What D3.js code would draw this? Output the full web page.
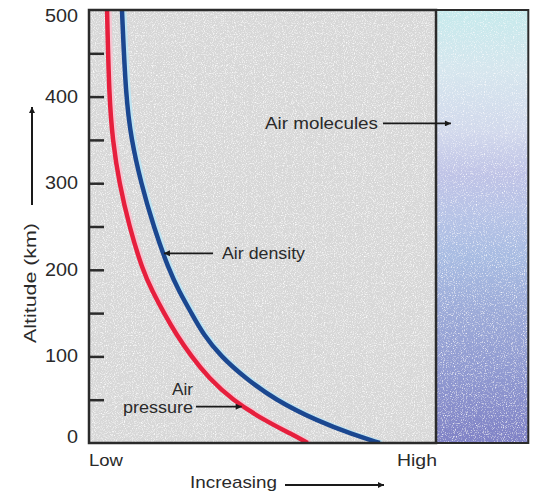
<!DOCTYPE html>
<html>
<head>
<meta charset="utf-8">
<script src="https://cdn.jsdelivr.net/npm/d3@7"></script>
<style>
  body { margin: 0; background: #fff; }
  text { font-family: "Liberation Sans", Arial, sans-serif; fill: #2a2a2a; }
</style>
</head>
<body>
<div class="chart"></div>
<script>
// altitude in km, values on a relative "Low -> High" scale (0..100)
const altitudes = [500, 400, 350, 300, 250, 200, 175, 150, 125, 100, 75, 50, 25, 10, 0]
const airPressure = [5.2, 5.8, 6.8, 8.7, 11.6, 15.4, 18.3, 21.6, 25.2, 29.5, 34.5, 41.2, 51, 58.5, 63]
const airDensity = [9.5, 10.6, 12.2, 15, 18.6, 23, 26, 29.5, 33, 38, 45, 53.6, 66, 76, 83.8]
const altLabels = [0, 100, 200, 300, 400, 500]
const altTicks = [50, 100, 150, 200, 250, 300, 350, 400, 450]

const W = 548, H = 498

const svg = d3.select("div.chart").append("svg")
    .attr("width", W)
    .attr("height", H)

// gray area is 0..100 (Low..High), the molecules panel sits past 100
const x = d3.scaleLinear().domain([0, 100]).range([89, 436])
const y = d3.scaleLinear().domain([0, 500]).range([443, 10])
const panelEnd = 126.6

const defs = svg.append("defs")

const grad = defs.append("linearGradient")
    .attr("id", "molecules")
    .attr("x1", 0).attr("y1", 0).attr("x2", 0).attr("y2", 1)
const stops = [
    [0, "#c6eaec"], [0.14, "#d6e6ee"], [0.28, "#d2d9ec"], [0.38, "#bfc3e6"],
    [0.47, "#b7c3e6"], [0.57, "#a8bce2"], [0.7, "#9caad8"], [0.85, "#8f98d0"], [1, "#8082c6"]
]
grad.selectAll("stop").data(stops).enter().append("stop")
    .attr("offset", d => d[0])
    .attr("stop-color", d => d[1])

// speckle texture, strength is the white overlay alpha bias
function speckle(id, bias) {
    const f = defs.append("filter").attr("id", id)
        .attr("x", 0).attr("y", 0).attr("width", "100%").attr("height", "100%")
    f.append("feTurbulence")
        .attr("type", "fractalNoise").attr("baseFrequency", 0.9).attr("numOctaves", 2).attr("result", "n")
    f.append("feColorMatrix")
        .attr("in", "n").attr("type", "matrix")
        .attr("values", `0 0 0 0 1  0 0 0 0 1  0 0 0 0 1  0 0 0 -2.4 ${bias}`)
        .attr("result", "w")
    f.append("feComposite").attr("in", "w").attr("in2", "SourceGraphic").attr("operator", "in").attr("result", "ws")
    f.append("feMerge").call(m => {
        m.append("feMergeNode").attr("in", "SourceGraphic")
        m.append("feMergeNode").attr("in", "ws")
    })
}
speckle("speckle", 1.25)
speckle("speckleSoft", 1.12)

defs.append("clipPath").attr("id", "plotClip")
    .append("rect")
    .attr("x", x(0)).attr("y", y(500))
    .attr("width", x(100) - x(0)).attr("height", y(0) - y(500))

defs.append("marker")
    .attr("id", "arrowhead")
    .attr("viewBox", "0 -5 10 10")
    .attr("refX", 10)
    .attr("refY", 0)
    .attr("markerWidth", 7)
    .attr("markerHeight", 6)
    .attr("markerUnits", "userSpaceOnUse")
    .attr("orient", "auto")
    .append("path")
    .attr("d", "M0,-5L10,0L0,5Z")
    .attr("fill", "#1a1a1a")

// backgrounds
svg.append("rect")
    .attr("x", x(0)).attr("y", y(500))
    .attr("width", x(100) - x(0)).attr("height", y(0) - y(500))
    .attr("fill", "#d7d7d7")
    .attr("filter", "url(#speckle)")

svg.append("rect")
    .attr("x", x(100)).attr("y", y(500))
    .attr("width", x(panelEnd) - x(100)).attr("height", y(0) - y(500))
    .attr("fill", "url(#molecules)")
    .attr("filter", "url(#speckleSoft)")

// curves
const line = d3.line()
    .x(d => x(d[1]))
    .y(d => y(d[0]))
    .curve(d3.curveBasis)

const curves = svg.append("g").attr("clip-path", "url(#plotClip)")
const series = [
    {values: airPressure, color: "#e61f3d", halo: "#f6c6d2"},
    {values: airDensity, color: "#1b4790", halo: "#bfe4f2"}
]
series.forEach(s => {
    const pts = altitudes.map((a, i) => [a, s.values[i]])
    curves.append("path")
        .attr("d", line(pts))
        .attr("transform", "translate(2,0)")
        .attr("fill", "none")
        .attr("stroke", s.halo)
        .attr("stroke-width", 5)
    curves.append("path")
        .attr("d", line(pts))
        .attr("fill", "none")
        .attr("stroke", s.color)
        .attr("stroke-width", 4.5)
})

// frames
svg.append("rect")
    .attr("x", x(0)).attr("y", y(500))
    .attr("width", x(100) - x(0)).attr("height", y(0) - y(500))
    .attr("fill", "none")
    .attr("stroke", "#2b2b2b")
    .attr("stroke-width", 2.5)

svg.append("rect")
    .attr("x", x(100)).attr("y", y(500))
    .attr("width", x(panelEnd) - x(100)).attr("height", y(0) - y(500))
    .attr("fill", "none")
    .attr("stroke", "#2b2b2b")
    .attr("stroke-width", 2)

// altitude ticks point inward
const axis = svg.append("g")
    .attr("transform", `translate(${x(0)},0)`)
    .call(d3.axisLeft(y).tickValues(altTicks).tickSize(-15).tickFormat(""))
axis.select(".domain").remove()
axis.selectAll(".tick line").attr("stroke", "#2b2b2b").attr("stroke-width", 2.5)

svg.selectAll(".altLabel")
    .data(altLabels)
    .enter().append("text")
    .attr("class", "altLabel")
    .attr("x", 78)
    .attr("y", d => Math.min(Math.max(y(d), 16), 437) + 6)
    .attr("text-anchor", "end")
    .style("font-size", "18px")
    .attr("textLength", d => String(d).length * 11)
    .attr("lengthAdjust", "spacingAndGlyphs")
    .text(d => d)

// y title with arrow
svg.append("text")
    .attr("transform", "translate(36,283) rotate(-90)")
    .attr("text-anchor", "middle")
    .style("font-size", "17px")
    .attr("textLength", 120)
    .attr("lengthAdjust", "spacingAndGlyphs")
    .text("Altitude (km)")

svg.append("line")
    .attr("x1", 32).attr("y1", 205)
    .attr("x2", 32).attr("y2", 107)
    .attr("stroke", "#1a1a1a").attr("stroke-width", 2)
    .attr("marker-end", "url(#arrowhead)")

// x labels
const bottomText = svg.append("g").style("font-size", "17px")
bottomText.append("text").attr("x", x(0)).attr("y", 466).text("Low")
    .attr("textLength", 34).attr("lengthAdjust", "spacingAndGlyphs")
bottomText.append("text").attr("x", x(100) + 1).attr("y", 466).attr("text-anchor", "end").text("High")
    .attr("textLength", 40).attr("lengthAdjust", "spacingAndGlyphs")
bottomText.append("text").attr("x", 190).attr("y", 488).text("Increasing")
    .attr("textLength", 87).attr("lengthAdjust", "spacingAndGlyphs")

svg.append("line")
    .attr("x1", 285).attr("y1", 485)
    .attr("x2", 384).attr("y2", 485)
    .attr("stroke", "#1a1a1a").attr("stroke-width", 2)
    .attr("marker-end", "url(#arrowhead)")

// annotations: arrow tip in data units, text offset in pixels
const notes = [
    {lines: ["Air molecules"], alt: 369, val: 104.3, from: 383, tx: 378, widths: [113]},
    {lines: ["Air density"], alt: 219, val: 21.6, from: 213, tx: 222, widths: [83], start: true},
    {lines: ["Air", "pressure"], alt: 42, val: 44, from: 196, tx: 193, widths: [21, 70]}
]
notes.forEach(n => {
    const tipX = x(n.val), tipY = y(n.alt)
    svg.append("line")
        .attr("x1", n.from).attr("y1", tipY)
        .attr("x2", tipX).attr("y2", tipY)
        .attr("stroke", "#1a1a1a").attr("stroke-width", 1.8)
        .attr("marker-end", "url(#arrowhead)")
    const t = svg.append("text")
        .attr("text-anchor", n.start ? "start" : "end")
        .style("font-size", "17px")
    n.lines.forEach((l, i) => {
        t.append("tspan")
            .attr("x", n.tx)
            .attr("y", tipY + 6 - (n.lines.length - 1 - i) * 18)
            .attr("textLength", n.widths[i])
            .attr("lengthAdjust", "spacingAndGlyphs")
            .text(l)
    })
})
</script>
</body>
</html>
